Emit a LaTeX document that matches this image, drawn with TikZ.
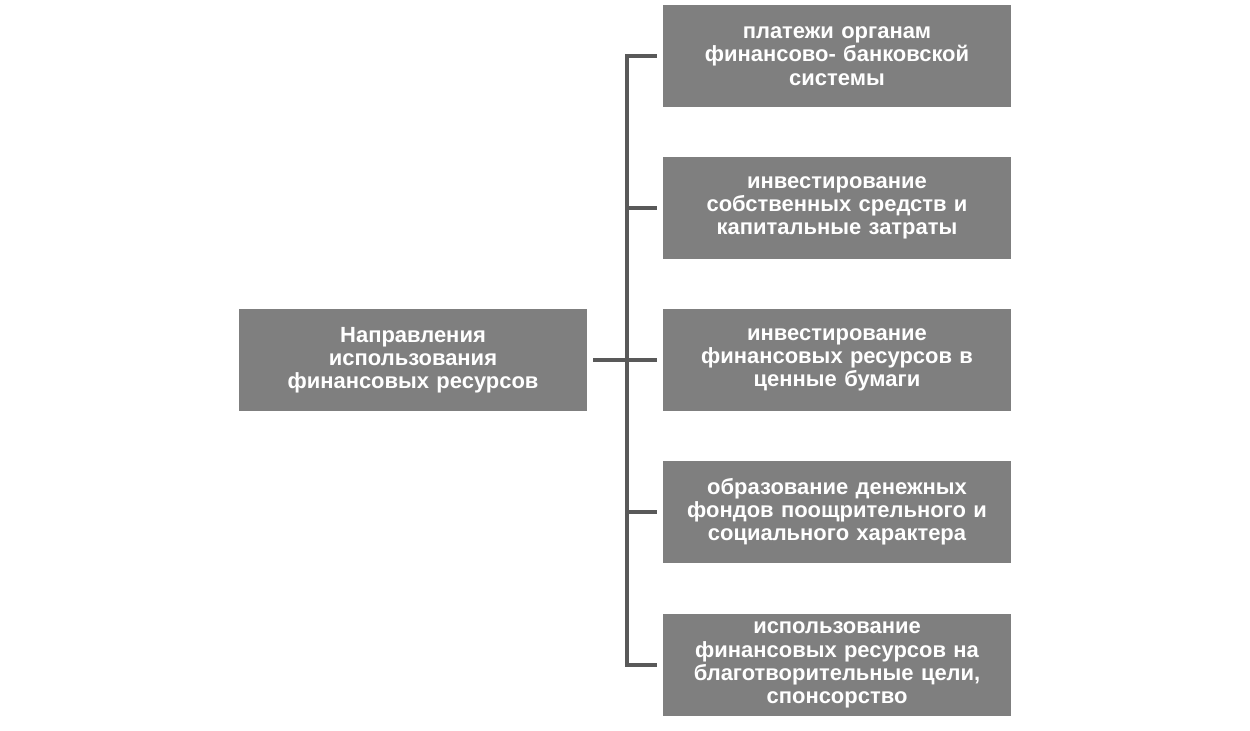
\documentclass[tikz,border=0pt]{standalone}
\usepackage{fontspec}
\setmainfont{Liberation Sans}
\begin{document}
\begin{tikzpicture}[x=0.02cm,y=-0.02cm,
  box/.style={fill=boxgray,text=white,font=\bfseries\fontsize{12.5}{13.2}\selectfont,minimum width=6.96cm,minimum height=2.04cm,text width=6.6cm,align=center,inner sep=0pt},
  conn/.style={draw=linegray,line width=2.6pt}]
\definecolor{boxgray}{HTML}{7F7F7F}
\definecolor{linegray}{HTML}{595959}
\useasboundingbox (0,0) rectangle (1250,730);
\node[box] (m) at (413,360) {Направления\\использования\\финансовых ресурсов};
\node[box] (a) at (837,56) {платежи органам\\финансово- банковской\\системы};
\node[box] (b) at (837,208) {инвестирование\\собственных средств и\\капитальные затраты};
\node[box] (c) at (837,360) {инвестирование\\финансовых ресурсов в\\ценные бумаги};
\node[box] (d) at (837,512) {образование денежных\\фондов поощрительного и\\социального характера};
\node[box] (e) at (837,665) {использование\\финансовых ресурсов на\\благотворительные цели,\\спонсорство};
\coordinate (t) at (627,360);
\draw[conn] ([xshift=0.12cm]m.east) -- (t);
\draw[conn,line join=miter] ([xshift=-0.12cm]a.west) -| (t) |- ([xshift=-0.12cm]e.west);
\foreach \n in {b,c,d} \draw[conn] (t |- \n.west) -- ([xshift=-0.12cm]\n.west);
\end{tikzpicture}
\end{document}
